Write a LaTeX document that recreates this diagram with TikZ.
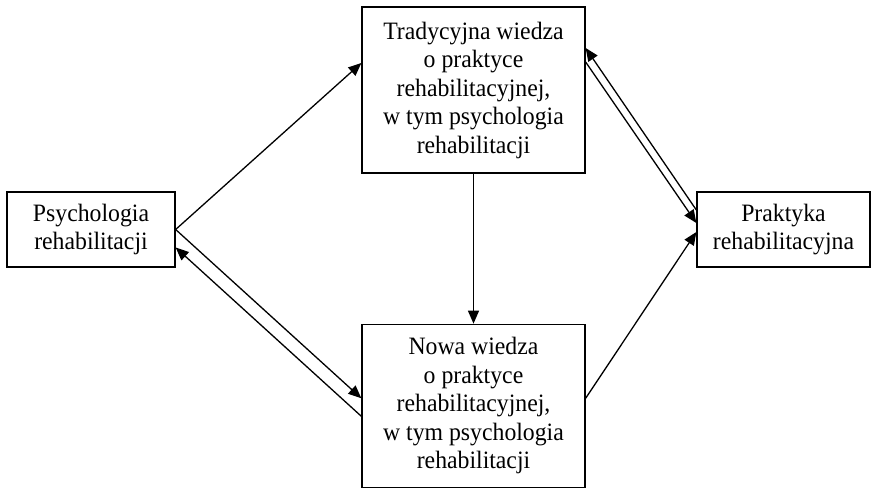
\documentclass[tikz,border=0pt]{standalone}
\usepackage{fontspec}
\setmainfont[FakeStretch=0.95]{Liberation Serif}
\usetikzlibrary{arrows.meta, positioning}

\begin{document}
\begin{tikzpicture}[
    x=1pt, y=1pt,
    box/.style={rectangle, draw=black, line width=1.3pt, align=center, inner sep=2pt,
                font=\fontsize{25}{28.5}\selectfont},
    arrow/.style={-{Triangle[length=13pt, width=11pt]}, line width=1.3pt}
]
    \useasboundingbox (0,0) rectangle (876,488);

    \node[box, minimum width=223pt, minimum height=166pt] (trad) at (473.5,398)
        {Tradycyjna wiedza\\o praktyce\\rehabilitacyjnej,\\w tym psychologia\\rehabilitacji};
    \node[box, minimum width=223pt, minimum height=163pt, below=150pt of trad] (nowa)
        {Nowa wiedza\\o praktyce\\rehabilitacyjnej,\\w tym psychologia\\rehabilitacji};
    \node[box, minimum width=168pt, minimum height=75pt] (psy) at (91,258.5)
        {Psychologia\\rehabilitacji};
    \node[box, minimum width=173pt, minimum height=75pt] (prak) at (783.5,258.5)
        {Praktyka\\rehabilitacyjna};

    \draw[arrow] (psy.east) -- ([yshift=27pt]trad.west);
    \draw[arrow] (psy.east) -- ([yshift=7.5pt]nowa.west);
    \draw[arrow] ([yshift=-10.5pt]nowa.west) -- ([yshift=-18pt]psy.east);
    \draw[arrow] (trad.south) -- (nowa.north);
    \draw[arrow] ([yshift=28pt]trad.east) -- ([yshift=6.5pt]prak.west);
    \draw[arrow] ([yshift=19.5pt]prak.west) -- ([yshift=42pt]trad.east);
    \draw[arrow] ([yshift=7.5pt]nowa.east) -- ([yshift=-2.5pt]prak.west);
\end{tikzpicture}
\end{document}
